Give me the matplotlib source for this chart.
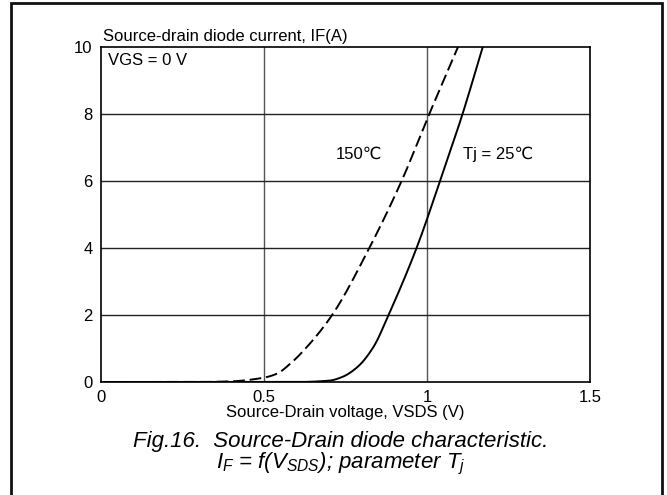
import matplotlib
matplotlib.use("Agg")
import matplotlib.pyplot as plt
from matplotlib.patches import Rectangle
import numpy as np

plt.rcParams['font.family'] = ['Liberation Sans', 'DejaVu Sans']
plt.rcParams['mathtext.fontset'] = 'custom'
plt.rcParams['mathtext.it'] = 'Liberation Sans:italic'
plt.rcParams['mathtext.rm'] = 'Liberation Sans'

# 25 C curve (solid)
v25 = [0.0, 0.60, 0.70, 0.74, 0.787, 0.836, 0.882, 0.968, 1.040, 1.109, 1.171]
i25 = [0.0, 0.0, 0.04, 0.15, 0.45, 1.05, 2.0, 4.0, 6.0, 8.0, 10.0]
# 150 C curve (dashed)
v150 = [0.0, 0.30, 0.40, 0.50, 0.54, 0.581, 0.632, 0.709, 0.823, 0.922, 1.007, 1.095]
i150 = [0.0, 0.0, 0.02, 0.13, 0.25, 0.55, 1.05, 2.0, 4.0, 6.0, 8.0, 10.0]

xticks = [0, 0.5, 1, 1.5]
xticklabels = ['0', '0.5', '1', '1.5']
yticks = [0, 2, 4, 6, 8, 10]


def pchip(x, y, n=400):
    x = np.asarray(x, float); y = np.asarray(y, float)
    h = np.diff(x); d = np.diff(y) / h
    m = np.zeros_like(y)
    for k in range(1, len(x) - 1):
        if d[k-1] * d[k] <= 0:
            m[k] = 0
        else:
            w1 = 2*h[k] + h[k-1]; w2 = h[k] + 2*h[k-1]
            m[k] = (w1 + w2) / (w1/d[k-1] + w2/d[k])
    m[0] = d[0]; m[-1] = d[-1]
    xs = np.linspace(x[0], x[-1], n)
    idx = np.clip(np.searchsorted(x, xs) - 1, 0, len(x) - 2)
    t = (xs - x[idx]) / h[idx]
    h00 = 2*t**3 - 3*t**2 + 1; h10 = t**3 - 2*t**2 + t
    h01 = -2*t**3 + 3*t**2; h11 = t**3 - t**2
    ys = h00*y[idx] + h10*h[idx]*m[idx] + h01*y[idx+1] + h11*h[idx]*m[idx+1]
    return xs, ys


W, H = 667, 495
fig = plt.figure(figsize=(W/100, H/100), dpi=100)
ax = fig.add_axes([101/W, 1-382/H, (590-101)/W, (382-47)/H])

for x in [0.5, 1.0]:
    ax.axvline(x, color='#555555', lw=1.0, zorder=1)
for y in [2, 4, 6, 8]:
    ax.axhline(y, color='#222222', lw=1.0, zorder=1)

xs, ys = pchip(v25, i25)
ax.plot(xs, ys, color='black', lw=1.4, zorder=3)
xs, ys = pchip(v150, i150)
ax.plot(xs, ys, color='black', lw=1.4, ls=(0, (6, 2.5)), zorder=3)

ax.set_xlim(0, 1.5)
ax.set_ylim(0, 10)
ax.set_xticks(xticks)
ax.set_xticklabels(xticklabels)
ax.set_yticks(yticks)
ax.tick_params(length=0, labelsize=12, pad=6)
for s in ax.spines.values():
    s.set_linewidth(1.2)
    s.set_color('black')

ax.set_xlabel('Source-Drain voltage, VSDS (V)', fontsize=12, labelpad=0)
fig.text(103/W, 1-37/H, 'Source-drain diode current, IF(A)', fontsize=12, va='center', ha='left')
ax.text(0.02, 9.6, 'VGS = 0 V', fontsize=12, va='center', ha='left')
ax.text(0.72, 6.8, '150\u2103', fontsize=12, va='center', ha='left')
ax.text(1.11, 6.8, 'Tj = 25\u2103', fontsize=12, va='center', ha='left')

fig.text(341/W, 1-441/H, 'Fig.16.  Source-Drain diode characteristic.', fontsize=16,
         style='italic', ha='center', va='center')
fig.text(341/W, 1-464/H, r'$I_F$ = f($V_{SDS}$); parameter $T_j$', fontsize=16,
         style='italic', ha='center', va='center')

fig.patches.append(Rectangle((11/W, -0.05), (662-11)/W, 1-3/H+0.05, transform=fig.transFigure,
                             fill=False, lw=2, edgecolor='#111111'))
fig.savefig('out.png', dpi=100)
